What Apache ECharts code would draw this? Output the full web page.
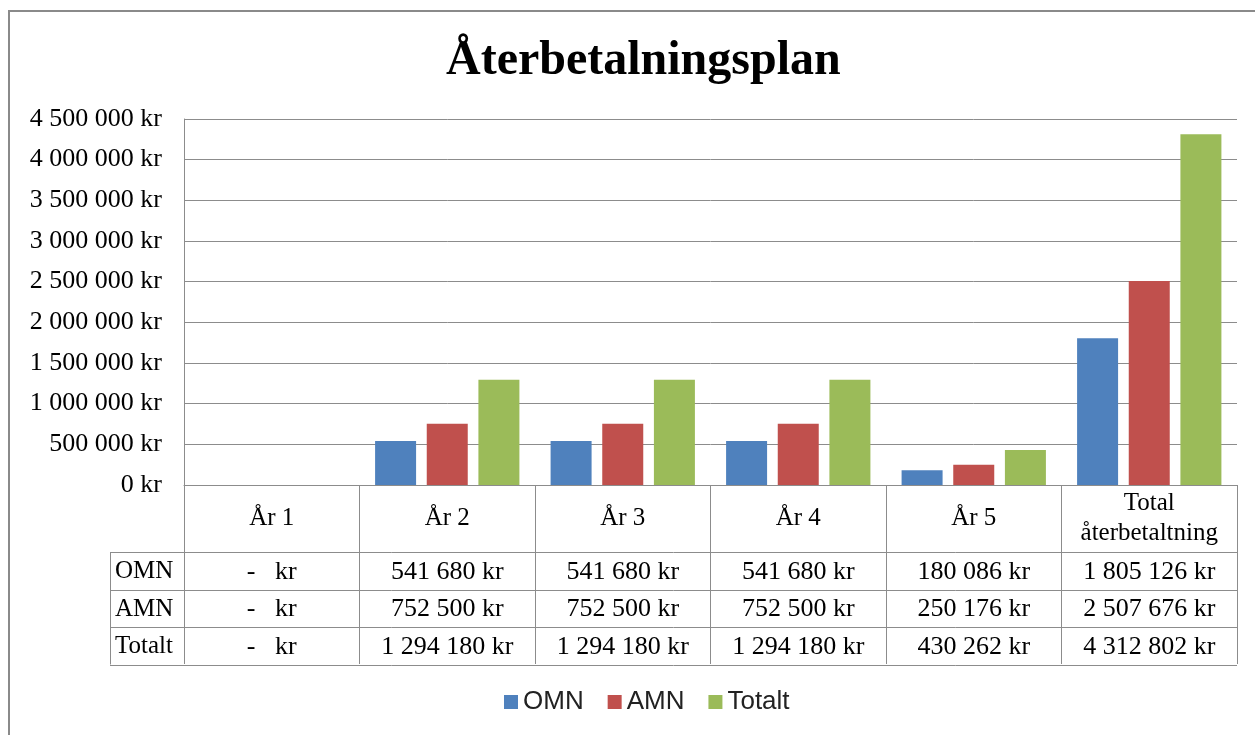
<!DOCTYPE html>
<html>
<head>
<meta charset="utf-8">
<title>Återbetalningsplan</title>
<script src="https://cdn.jsdelivr.net/npm/echarts@6/dist/echarts.min.js"></script>
<style>
  html, body { margin: 0; padding: 0; background: #fff; }
  #chart { width: 1255px; height: 735px; }
</style>
</head>
<body>
<div id="chart"></div>
<script>
// data
var categories = ["År 1", "År 2", "År 3", "År 4", "År 5", "Total\nåterbetaltning"];
var seriesNames = ["OMN", "AMN", "Totalt"];
var omn = [0, 541680, 541680, 541680, 180086, 1805126];
var amn = [0, 752500, 752500, 752500, 250176, 2507676];
var totalt = [0, 1294180, 1294180, 1294180, 430262, 4312802];
var colors = ["#4F81BD", "#C0504D", "#9BBB59"];

var serif = "'Liberation Serif', 'Times New Roman', serif";
var lineColor = "#8c8c8c";

function kr(v) {
  if (v === 0) return "-   kr";
  return String(v).replace(/\B(?=(\d{3})+(?!\d))/g, " ") + " kr";
}

var chart = echarts.init(document.getElementById("chart"));

var option = {
  animation: false,
  title: {
    text: "Återbetalningsplan",
    left: 441,
    top: 33,
    textStyle: { fontFamily: serif, fontWeight: "bold", fontSize: 48, color: "#000" }
  },
  legend: {
    data: seriesNames,
    bottom: 15,
    left: 499,
    icon: "rect",
    itemWidth: 14,
    itemHeight: 14,
    itemGap: 24,
    textStyle: { fontFamily: "'Liberation Sans', Arial, sans-serif", fontSize: 26, color: "#222" }
  },
  grid: { left: 184, right: 18, top: 119, bottom: 250, containLabel: false },
  xAxis: {
    type: "category",
    data: categories,
    axisLine: { show: true, lineStyle: { color: lineColor, width: 1 } },
    axisTick: { show: true, interval: 0, length: 179, lineStyle: { color: lineColor, width: 1 } },
    axisLabel: {
      interval: 0,
      margin: 33,
      verticalAlign: "middle",
      lineHeight: 30,
      fontFamily: serif,
      fontSize: 25,
      color: "#000"
    }
  },
  yAxis: {
    type: "value",
    min: 0,
    max: 4500000,
    interval: 500000,
    axisLine: { show: true, lineStyle: { color: lineColor, width: 1 } },
    axisTick: { show: false },
    splitLine: { lineStyle: { color: lineColor, width: 1 } },
    axisLabel: {
      margin: 22,
      fontFamily: serif,
      fontSize: 26,
      color: "#000",
      formatter: function (v) { return v === 0 ? "0 kr" : kr(v); }
    }
  },
  series: [
    { name: "OMN", type: "bar", data: omn, barWidth: 41, barGap: "26%",
      itemStyle: { color: colors[0] } },
    { name: "AMN", type: "bar", data: amn, barWidth: 41, barGap: "26%",
      itemStyle: { color: colors[1] } },
    { name: "Totalt", type: "bar", data: totalt, barWidth: 41, barGap: "26%",
      itemStyle: { color: colors[2] } }
  ]
};

chart.setOption(option);

// data table under the axis, placed from the axis scales
function buildTable() {
  var c0 = chart.convertToPixel({ xAxisIndex: 0 }, 0);
  var c1 = chart.convertToPixel({ xAxisIndex: 0 }, 1);
  var colW = c1 - c0;
  var left = c0 - colW / 2;
  var right = left + colW * categories.length;
  var base = chart.convertToPixel({ yAxisIndex: 0 }, 0);
  var headH = 67, rowH = 37.5, labelLeft = 110;
  var rows = [omn, amn, totalt];
  var els = [];

  // outer frame of the chart area
  els.push({ type: "line", shape: { x1: 8, y1: 11, x2: 1255, y2: 11 },
    style: { stroke: "#8a8a8a", lineWidth: 2 }, silent: true });
  els.push({ type: "line", shape: { x1: 9, y1: 11, x2: 9, y2: 735 },
    style: { stroke: "#8a8a8a", lineWidth: 2 }, silent: true });

  var top = base + headH;
  for (var r = 0; r <= rows.length; r++) {
    var y = Math.round(top + r * rowH) + 0.5;
    els.push({ type: "line", shape: { x1: labelLeft, y1: y, x2: right, y2: y },
      style: { stroke: lineColor, lineWidth: 1 }, silent: true });
  }
  els.push({ type: "line", shape: { x1: labelLeft + 0.5, y1: top, x2: labelLeft + 0.5, y2: top + rows.length * rowH },
    style: { stroke: lineColor, lineWidth: 1 }, silent: true });

  rows.forEach(function (vals, r) {
    var cy = top + r * rowH + rowH / 2 + 1;
    els.push({ type: "text", x: labelLeft + 5, y: cy, silent: true,
      style: { text: seriesNames[r], fontFamily: serif, fontSize: 25, fill: "#000",
        align: "left", verticalAlign: "middle" } });
    vals.forEach(function (v, i) {
      var cx = chart.convertToPixel({ xAxisIndex: 0 }, i);
      els.push({ type: "text", x: cx, y: cy, silent: true,
        style: { text: kr(v), fontFamily: serif, fontSize: 26, fill: "#000",
          align: "center", verticalAlign: "middle" } });
    });
  });

  chart.setOption({ graphic: { elements: els } });
}
buildTable();
</script>
</body>
</html>
